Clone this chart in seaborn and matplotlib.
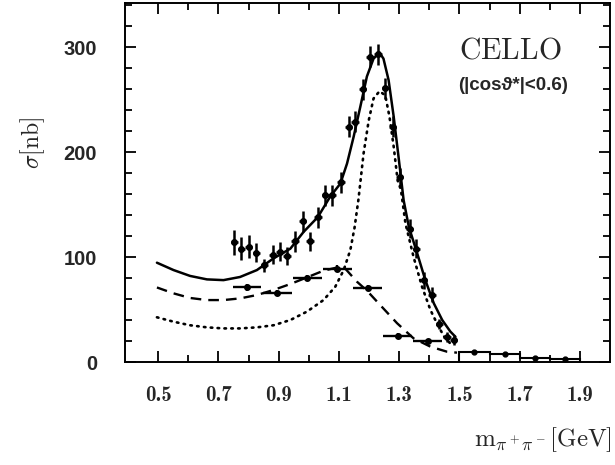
import numpy as np
import pandas as pd
import matplotlib
matplotlib.use("Agg")
import matplotlib.pyplot as plt
import seaborn as sns
from matplotlib.ticker import FixedLocator

# --- dados ---
# pontos finos (bins de 0.025 GeV)
m_fino = [0.753, 0.776, 0.800, 0.826, 0.853, 0.880, 0.905, 0.927, 0.955, 0.980,
          1.005, 1.030, 1.055, 1.077, 1.107, 1.132, 1.154, 1.179, 1.204, 1.229,
          1.254, 1.278, 1.302, 1.335, 1.357, 1.381, 1.409, 1.434, 1.459, 1.481]
sig_fino = [114, 108, 110, 104, 92, 102, 105, 101, 115, 134,
            115, 138, 159, 159, 171, 224, 229, 260, 291, 293,
            261, 224, 176, 127, 108, 78, 64, 36, 24, 21]
err_fino = [12, 11, 11, 9, 6, 9, 9, 9, 10, 10,
            9, 10, 10, 10, 10, 10, 10, 10, 10, 10,
            10, 10, 9, 9, 9, 8, 7, 5, 5, 5]

# pontos largos (bins de 0.1 GeV)
m_largo = [0.795, 0.895, 0.995, 1.095, 1.195, 1.295, 1.395]
sig_largo = [71, 66, 80, 89, 70.5, 25, 20]
err_largo = [3, 3, 3, 3, 3, 3, 2]

# histograma 1.5 - 1.9 GeV
bordas_hist = [1.5, 1.6, 1.7, 1.8, 1.9]
sig_hist = [9.8, 7.3, 4.1, 2.6]
m_hist = [1.55, 1.65, 1.75, 1.85]

# curvas
m_solida = [0.496, 0.551, 0.606, 0.662, 0.717, 0.772, 0.828, 0.883, 0.939, 0.983,
            1.030, 1.071, 1.105, 1.127, 1.149, 1.171, 1.193, 1.215, 1.235, 1.248,
            1.265, 1.282, 1.298, 1.315, 1.332, 1.360, 1.387, 1.415, 1.443, 1.470, 1.487]
sig_solida = [94.6, 87.6, 82, 78.7, 78, 81, 87.6, 98.7, 108, 124,
              138, 157.5, 170, 189, 214.6, 243, 272, 289, 294.6, 289,
              268.6, 233.6, 195.5, 154, 129, 103.5, 78, 56, 40, 29, 24]

m_tracejada = [0.496, 0.551, 0.606, 0.662, 0.717, 0.772, 0.828, 0.883, 0.939, 0.994,
               1.049, 1.094, 1.121, 1.160, 1.193, 1.238, 1.293, 1.348, 1.404, 1.459, 1.492]
sig_tracejada = [71, 65.4, 61, 59, 59, 60.6, 63.8, 68.6, 74.3, 80.6,
                 87, 90, 89, 76.5, 68, 54, 37, 22.5, 14.6, 9.8, 8.9]

m_pontilhada = [0.496, 0.551, 0.606, 0.662, 0.717, 0.772, 0.828, 0.883, 0.939, 0.994,
                1.049, 1.088, 1.116, 1.138, 1.152, 1.165, 1.182, 1.199, 1.215, 1.235,
                1.254, 1.268, 1.282, 1.295, 1.306, 1.321, 1.348, 1.376, 1.404, 1.431,
                1.453, 1.476]
sig_pontilhada = [42.6, 38.4, 35, 33, 32, 32, 33, 35, 40, 48,
                  59, 71.7, 87.6, 106.7, 128, 155, 198.7, 230, 251, 258,
                  254, 233.6, 205, 173, 164, 132, 100, 71.7, 49.5, 33.6,
                  22.5, 16]

xticks_maior = [0.5, 0.7, 0.9, 1.1, 1.3, 1.5, 1.7, 1.9]
xticks_menor = [0.6, 0.8, 1.0, 1.2, 1.4, 1.6, 1.8]
yticks_maior = [0, 100, 200, 300]

sns.set_theme(style="ticks")
plt.rcParams["mathtext.fontset"] = "cm"
plt.rcParams["font.family"] = ["DejaVu Sans"]

fig = plt.figure(figsize=(6.15, 4.65), dpi=100)
ax = fig.add_axes([125 / 615, 103 / 465, 485 / 615, 359 / 465])

df_sol = pd.DataFrame({"m": m_solida, "s": sig_solida})
df_tra = pd.DataFrame({"m": m_tracejada, "s": sig_tracejada})
df_pon = pd.DataFrame({"m": m_pontilhada, "s": sig_pontilhada})

sns.lineplot(data=df_sol, x="m", y="s", ax=ax, color="black", lw=1.8,
             sort=False, estimator=None)
sns.lineplot(data=df_tra, x="m", y="s", ax=ax, color="black", lw=1.7,
             sort=False, estimator=None, linestyle=(0, (4.5, 3)))
sns.lineplot(data=df_pon, x="m", y="s", ax=ax, color="black", lw=1.9,
             sort=False, estimator=None, linestyle=(0, (0.6, 2.0)))
ax.lines[-1].set_dash_capstyle("round")

ax.errorbar(m_fino, sig_fino, yerr=err_fino, xerr=0.0125, fmt="o", ms=4,
            color="black", elinewidth=1.8, capsize=0)
ax.errorbar(m_largo, sig_largo, yerr=err_largo, xerr=0.048, fmt="o", ms=4,
            color="black", elinewidth=1.7, capsize=0)
ax.stairs(sig_hist, bordas_hist, color="black", lw=1.5, baseline=0)
ax.plot(m_hist, sig_hist, "o", ms=3.5, color="black")

ax.set_xlim(0.39, 2.0)
ax.set_ylim(0, 342)
ax.set_xlabel("")
ax.set_ylabel("")

ax.xaxis.set_major_locator(FixedLocator(xticks_maior))
ax.xaxis.set_minor_locator(FixedLocator(xticks_menor))
ax.yaxis.set_major_locator(FixedLocator(yticks_maior))
ax.yaxis.set_minor_locator(FixedLocator([v for v in range(20, 341, 20) if v % 100]))
ax.set_xticklabels([f"{v:.1f}" for v in xticks_maior], fontfamily="cmb10", fontsize=15)
ax.set_yticklabels([str(v) for v in yticks_maior], fontfamily="Liberation Sans",
                   fontweight="bold", fontsize=14.5)
ax.tick_params(which="both", direction="in", top=True, right=True, color="black", width=1.3)
ax.tick_params(which="major", length=8)
ax.tick_params(which="minor", length=5)
ax.tick_params(axis="x", which="major", pad=17)
ax.tick_params(axis="y", which="major", pad=20)
for sp in ax.spines.values():
    sp.set_linewidth(1.4)
    sp.set_color("black")

ax.text(1.669, 297, r"$\mathrm{CELLO}$", fontsize=21.5, ha="center", va="center")
ax.text(1.679, 263, "(|cosϑ*|<0.6)", fontsize=13.5, fontweight="bold",
        family=["Liberation Sans", "DejaVu Sans"], ha="center", va="center")

fig.text(33 / 615, 1 - 143 / 465, r"$\sigma[\mathrm{nb}]$", rotation=90,
         fontsize=17, ha="center", va="center")
fig.text(612 / 615, 1 - 440 / 465, r"$\mathrm{m}_{\pi^+\pi^-}[\mathrm{GeV}]$",
         fontsize=18, ha="right", va="center")

fig.savefig("out.png", dpi=100)
